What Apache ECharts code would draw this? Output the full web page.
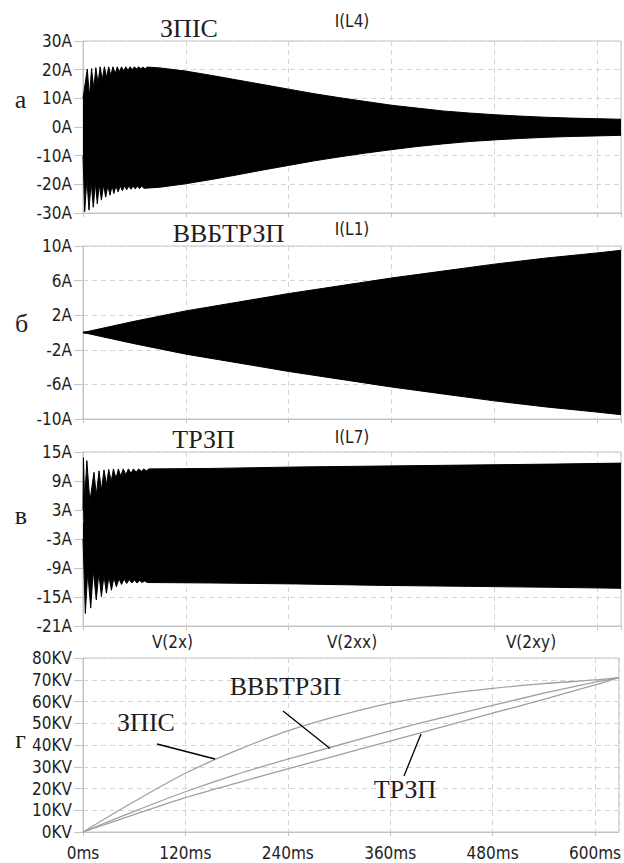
<!DOCTYPE html>
<html>
<head>
<meta charset="utf-8">
<script src="https://cdn.jsdelivr.net/npm/echarts@6/dist/echarts.min.js"></script>
<style>
html,body{margin:0;padding:0;background:#fff;}
#chart{width:624px;height:863px;}
</style>
</head>
<body>
<div id="chart"></div>
<script>
// ---------- DATA ----------
// Panel а: I(L4), envelope of the oscillating current [ms, A]
var aUpper = [[0,10],[5,20.2],[7.5,10.5],[10,20.4],[12.5,13.5],[15,20.7],[17.5,15.3],[20,21],[22.5,16.5],[25,21],
  [27.5,17.3],[30,21],[32.5,18],[35,21],[37.5,18.6],[40,21],[42.5,19.2],[45,21],[47.5,19.5],[50,21],
  [52.5,19.8],[55,21],[57.5,20],[60,21],[62.5,20.2],[65,21],[67.5,20.3],[70,20.9],[72.5,20.3],[75,20.9],
  [90,20.6],[120,19.5],[150,18.0],[180,16.4],[210,14.8],[240,13.2],[270,11.6],[300,10.2],[330,8.9],
  [360,7.6],[390,6.6],[420,5.6],[450,4.9],[480,4.3],[510,3.8],[540,3.4],[570,3.1],[600,2.9],[628,2.7]];
var aLower = [[0,-10],[2,-29.5],[4.5,-18],[7,-29],[9.5,-19],[12,-28],[14.5,-19.5],[16.7,-26.8],[19,-20],[21.5,-25.5],
  [24,-20.2],[26.5,-24.5],[29,-20.4],[31.5,-23.8],[34,-20.5],[36,-23.2],[38.5,-20.6],[41,-22.6],[43.5,-20.6],[46,-22.2],
  [48.5,-20.6],[51,-21.9],[53.5,-20.6],[56,-21.7],[58.5,-20.6],[61,-21.6],[63.5,-20.6],[66,-21.5],[68.5,-20.6],[71,-21.4],
  [90,-21],[120,-19.8],[150,-18.3],[180,-16.7],[210,-15],[240,-13.4],[270,-11.8],
  [300,-10.4],[330,-9.1],[360,-7.9],[390,-6.8],[420,-5.9],[450,-5.1],[480,-4.5],[510,-4.0],[540,-3.6],[570,-3.3],
  [600,-3.1],[628,-2.9]];

// Panel б: I(L1)
var bTime  = [0, 60, 120, 180, 240, 300, 360, 420, 480, 540, 600, 628];
var bUpper = [0, 1.3, 2.5, 3.5, 4.5, 5.4, 6.3, 7.1, 7.9, 8.6, 9.2, 9.5];
var bLower = [0, -1.3, -2.5, -3.5, -4.5, -5.4, -6.3, -7.1, -7.9, -8.6, -9.2, -9.5];

// Panel в: I(L7)
var cUpper = [[0,3],[0.5,13.8],[2,5],[4.5,13.2],[8,4.7],[12.8,10.8],[15.5,6.1],[18.7,11.1],[21.5,7.1],[24.5,11.3],
  [27.5,8.2],[30,11.4],[33,8.9],[35.5,11.5],[38.5,9.5],[41.3,11.5],[44,10],[47,11.5],[50,10.3],[53,11.5],
  [56,10.6],[59,11.5],[62,10.8],[65,11.5],[68,11],[71,11.5],[74,11.1],[77,11.5],
  [150,11.6],[250,11.9],[350,12.1],[450,12.3],[550,12.5],[628,12.7]];
var cLower = [[0,-3],[2.7,-18.4],[5.5,-9.8],[9,-17.3],[12,-9.5],[15.5,-15.6],[18.5,-10],[21.5,-14.9],[24.5,-10.5],
  [27.3,-14.2],[30.3,-10.8],[33.2,-13.6],[36,-11],[39,-12.9],[42,-11.2],[45,-12.4],[48,-11.3],[51,-12.2],
  [54,-11.4],[57,-12.1],[60,-11.5],[63,-12.1],[66,-11.6],[69,-12],[72,-11.7],[75,-12],
  [150,-12.1],[250,-12.3],[350,-12.6],[450,-12.8],[550,-13.0],[628,-13.2]];

// Panel г: voltages [KV]
var dTime    = [0, 60, 120, 180, 240, 300, 360, 420, 480, 540, 600, 628];
var dZPIS    = [0, 14, 27, 37.5, 46.5, 53.5, 59.3, 63.2, 66, 68.2, 69.9, 71];
var dVVBTRZP = [0, 9.5, 18.5, 26.5, 33.5, 40, 46.5, 52.5, 58.2, 63.8, 68.9, 71];
var dTRZP    = [0, 8, 15.8, 22.5, 29, 35.5, 41.8, 48.2, 54.6, 61, 67.6, 71];

// Texts
var panelTitles = ['ЗПІС', 'ВВБТРЗП', 'ТРЗП'];
var traceNames  = ['I(L4)', 'I(L1)', 'I(L7)'];
var voltNames   = ['V(2x)', 'V(2xx)', 'V(2xy)'];
var panelLetters = ['а', 'б', 'в', 'г'];
var curveNames  = ['ЗПІС', 'ВВБТРЗП', 'ТРЗП'];
var xUnit = 'ms', iUnit = 'A', vUnit = 'KV';
var yRanges = [[-30, 30, 10], [-10, 10, 4], [-21, 15, 6], [0, 80, 10]];

// ---------- CHART ----------
var SANS = "'DejaVu Sans Condensed','DejaVu Sans',sans-serif";
var SERIF = "'Liberation Serif','Times New Roman',serif";
var frame = '#c4c4c4', gridCol = '#d4d4d4', txt = '#1e1e1e';
var seamOverlap = [0.3, 0.12, 0.3]; // small overlap of the two filled halves (style only)

function zip(t, v) { return t.map(function (x, i) { return [x, v[i]]; }); }

var grids = [
  {left: 83, top: 41, width: 538, height: 172},
  {left: 83, top: 246, width: 538, height: 173},
  {left: 83, top: 452, width: 538, height: 174},
  {left: 83, top: 658, width: 538, height: 174}
].map(function (g) {
  g.show = true; g.borderColor = frame; g.borderWidth = 1; g.backgroundColor = 'transparent';
  return g;
});

var xAxes = grids.map(function (g, i) {
  return {
    type: 'value', gridIndex: i, min: 0, max: 628, interval: 120,
    axisLine: {show: true, onZero: false, lineStyle: {color: frame, width: 1}},
    axisTick: {show: true, length: 4, lineStyle: {color: frame}},
    axisLabel: {show: i === 3, showMaxLabel: false, margin: 12, color: txt,
      fontFamily: SANS, fontSize: 17, formatter: function (v) { return v + xUnit; }},
    splitLine: {show: true, lineStyle: {color: gridCol, type: [5, 4], width: 1}}
  };
});

var yAxes = yRanges.map(function (r, i) {
  return {
    type: 'value', gridIndex: i, min: r[0], max: r[1], interval: r[2],
    axisLine: {show: true, onZero: false, lineStyle: {color: frame, width: 1}},
    axisTick: {show: true, length: 9, lineStyle: {color: frame}},
    axisLabel: {margin: 11, color: txt, fontFamily: SANS, fontSize: 17,
      formatter: function (v) { return v + (i === 3 ? vUnit : iUnit); }},
    splitLine: {show: true, lineStyle: {color: gridCol, type: [5, 4], width: 1}}
  };
});

function envelope(data, idx, upper) {
  return {
    type: 'line', xAxisIndex: idx, yAxisIndex: idx, data: data, symbol: 'none',
    lineStyle: {color: '#000', width: 1},
    areaStyle: {color: '#000', opacity: 1, origin: upper ? -seamOverlap[idx] : seamOverlap[idx]},
    silent: true, animation: false, z: 3
  };
}
function curve(name, vals) {
  return {
    type: 'line', name: name, xAxisIndex: 3, yAxisIndex: 3, data: zip(dTime, vals), symbol: 'none',
    smooth: 0.3, lineStyle: {color: '#a0a0a0', width: 1.3}, silent: true, animation: false, z: 3
  };
}

var series = [
  envelope(aUpper, 0, true), envelope(aLower, 0, false),
  envelope(zip(bTime, bUpper), 1, true), envelope(zip(bTime, bLower), 1, false),
  envelope(cUpper, 2, true), envelope(cLower, 2, false),
  curve(curveNames[0], dZPIS), curve(curveNames[1], dVVBTRZP), curve(curveNames[2], dTRZP)
];

function txtEl(s, x, y, font, size) {
  return {type: 'text', silent: true, z: 10,
    style: {text: s, x: x, y: y, fontFamily: font, fontSize: size, fill: txt,
      align: 'center', verticalAlign: 'middle', textAlign: 'center', textVerticalAlign: 'middle'}};
}
function lineEl(x1, y1, x2, y2) {
  return {type: 'line', silent: true, z: 10, shape: {x1: x1, y1: y1, x2: x2, y2: y2},
    style: {stroke: '#000', lineWidth: 1.3}};
}

var graphics = [
  txtEl(panelTitles[0], 189, 28, SERIF, 26),
  txtEl(panelTitles[1], 228.5, 233, SERIF, 26),
  txtEl(panelTitles[2], 203.5, 439, SERIF, 26),
  txtEl(traceNames[0], 352, 21, SANS, 17),
  txtEl(traceNames[1], 352, 229, SANS, 17),
  txtEl(traceNames[2], 352, 437, SANS, 17),
  txtEl(voltNames[0], 172.5, 641.5, SANS, 17),
  txtEl(voltNames[1], 352, 641.5, SANS, 17),
  txtEl(voltNames[2], 531, 641.5, SANS, 17),
  txtEl(panelLetters[0], 20.5, 99, SERIF, 26),
  txtEl(panelLetters[1], 21.5, 323, SERIF, 26),
  txtEl(panelLetters[2], 21, 515, SERIF, 26),
  txtEl(panelLetters[3], 20.5, 739, SERIF, 26),
  txtEl(curveNames[0], 146, 722, SERIF, 26),
  txtEl(curveNames[1], 285.5, 686, SERIF, 26),
  txtEl(curveNames[2], 405, 789, SERIF, 26),
  lineEl(157, 744, 215, 759),
  lineEl(283, 711, 330, 748.5),
  lineEl(404, 776, 421, 734)
];

var chart = echarts.init(document.getElementById('chart'), null, {renderer: 'svg'});
chart.setOption({
  animation: false,
  backgroundColor: '#fff',
  grid: grids,
  xAxis: xAxes,
  yAxis: yAxes,
  series: series,
  graphic: graphics
});
</script>
</body>
</html>
